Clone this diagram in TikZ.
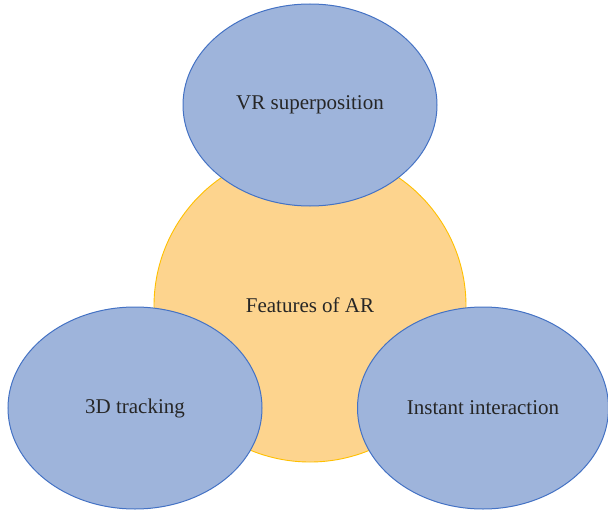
\documentclass[tikz,border=0pt]{standalone}
\usepackage{fontspec}
\setmainfont{Liberation Serif}
\usetikzlibrary{shapes.geometric}
\definecolor{featfill}{HTML}{FDD48E}
\definecolor{featline}{HTML}{FFC000}
\definecolor{partfill}{HTML}{9EB4DB}
\definecolor{partline}{HTML}{4472C4}
\definecolor{labeltext}{HTML}{262626}
\tikzset{
	feature/.style = {ellipse, fill = partfill, draw = partline, line width = 1pt,
		minimum width = 254pt, minimum height = 202pt, inner sep = 0pt},
	core/.style = {circle, fill = featfill, draw = featline, line width = 0.9pt,
		minimum size = 312pt, inner sep = 0pt}
}
\begin{document}
\begin{tikzpicture}[x = 1pt, y = -1pt, font = \fontsize{21}{25}\selectfont, text = labeltext]
				\useasboundingbox (0,0) rectangle (608,511);
				\node[core] (ar) at (310,306) {};
				\node at (310,305) {Features of AR};
				\node[feature] (vr) at (310,105) {VR superposition};
				\node[feature] (track) at (135,408) {3D tracking};
				\node[feature, minimum width = 251pt] (inter) at (483,408) {Instant interaction};
		\end{tikzpicture}
\end{document}
